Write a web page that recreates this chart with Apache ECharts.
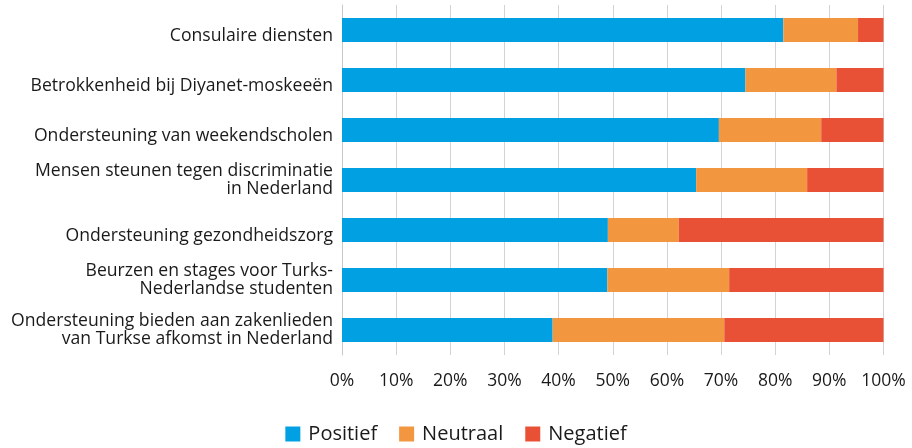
<!DOCTYPE html>
<html><head><meta charset="utf-8">
<script src="https://cdn.jsdelivr.net/npm/echarts@6/dist/echarts.min.js"></script>
<style>html,body{margin:0;padding:0;background:#fff}#c{width:912px;height:448px}</style>
</head><body><div id="c"></div>
<script>
const categories = [
  "Consulaire diensten",
  "Betrokkenheid bij Diyanet-moskeeën",
  "Ondersteuning van weekendscholen",
  "Mensen steunen tegen discriminatie\nin Nederland",
  "Ondersteuning gezondheidszorg",
  "Beurzen en stages voor Turks-\nNederlandse studenten",
  "Ondersteuning bieden aan zakenlieden\nvan Turkse afkomst in Nederland"
];
const positief = [81.5, 74.5, 69.6, 65.4, 49.1, 49.0, 38.9];
const neutraal = [13.8, 16.8, 18.9, 20.5, 13.1, 22.5, 31.7];
const negatief = [4.7, 8.7, 11.5, 14.1, 37.8, 28.5, 29.4];
const seriesNames = ["Positief", "Neutraal", "Negatief"];
const xTicks = [0, 10, 20, 30, 40, 50, 60, 70, 80, 90, 100];

const colors = ["#00A0E2", "#F39640", "#E95137"];
const font = "'Open Sans', sans-serif";
const chart = echarts.init(document.getElementById('c'));
const mk = (name, data, i) => ({
  name, type: 'bar', stack: 'all', data, barWidth: 24,
  itemStyle: { color: colors[i] }, emphasis: { disabled: true }
});
const lblBase = { fontFamily: font, fontSize: 17.6, color: '#1a1a1a', lineHeight: 18 };
chart.setOption({
  animation: false,
  grid: { left: 342, right: 28.5, top: 5, bottom: 93 },
  legend: {
    top: 419, left: 'center', itemWidth: 15, itemHeight: 15, itemGap: 22,
    icon: 'rect',
    textStyle: { fontFamily: font, fontSize: 20, lineHeight: 20, color: '#1a1a1a', padding: [0, 0, 0, 3] },
    data: seriesNames
  },
  xAxis: {
    type: 'value', min: 0, max: 100, interval: 10,
    axisLabel: { formatter: v => xTicks.includes(v) ? v + '%' : '', fontFamily: font, fontSize: 17.5, color: '#1a1a1a', margin: 17 },
    splitLine: { show: true, lineStyle: { color: '#d3d3d3', width: 1 } },
    axisLine: { show: false }, axisTick: { show: false }
  },
  yAxis: {
    type: 'category', inverse: true, data: categories,
    axisLabel: {
      margin: 9, align: 'right',
      formatter: v => v.includes('\n') ? v.split('\n').map(l => '{m|' + l + '}').join('\n') : '{s|' + v + '}',
      rich: {
        m: Object.assign({}, lblBase),
        s: Object.assign({}, lblBase, { padding: [11, 0, 0, 0] })
      }
    },
    axisLine: { show: true, lineStyle: { color: '#c8c8c8' } }, axisTick: { show: false }
  },
  series: [mk(seriesNames[0], positief, 0), mk(seriesNames[1], neutraal, 1), mk(seriesNames[2], negatief, 2)]
});
</script></body></html>
